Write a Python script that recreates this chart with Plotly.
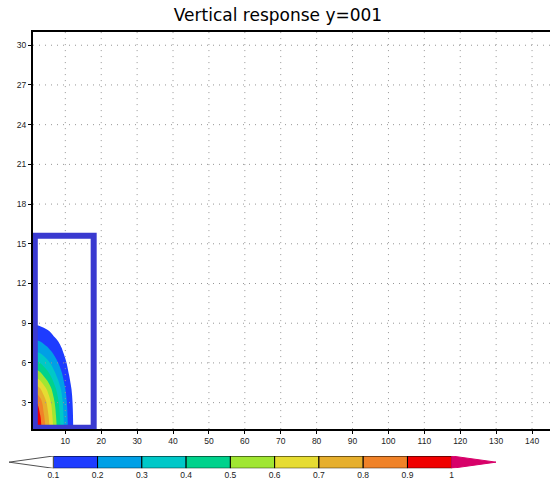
import plotly.graph_objects as go

# ---- data ----
x_grid = [1, 2, 3, 4, 5, 6, 7, 8, 9, 10, 11, 12, 13, 14]
y_grid = [1, 2, 3, 4, 5, 6, 7, 8, 9, 10, 11]
z_grid = [
    [0.990, 0.975, 0.930, 0.845, 0.760, 0.667, 0.560, 0.464, 0.366, 0.260, 0.175, 0.112, 0.052, 0.020],
    [0.960, 0.945, 0.905, 0.810, 0.730, 0.640, 0.538, 0.445, 0.351, 0.250, 0.168, 0.108, 0.050, 0.019],
    [0.910, 0.900, 0.850, 0.760, 0.684, 0.600, 0.504, 0.418, 0.329, 0.234, 0.158, 0.101, 0.047, 0.018],
    [0.767, 0.752, 0.713, 0.651, 0.589, 0.517, 0.434, 0.360, 0.284, 0.202, 0.136, 0.087, 0.040, 0.016],
    [0.589, 0.577, 0.547, 0.499, 0.452, 0.397, 0.333, 0.276, 0.218, 0.155, 0.104, 0.067, 0.031, 0.012],
    [0.429, 0.420, 0.398, 0.364, 0.329, 0.289, 0.242, 0.201, 0.158, 0.113, 0.076, 0.048, 0.023, 0.009],
    [0.285, 0.279, 0.265, 0.242, 0.219, 0.192, 0.161, 0.134, 0.105, 0.075, 0.050, 0.032, 0.015, 0.006],
    [0.172, 0.169, 0.160, 0.146, 0.132, 0.116, 0.097, 0.081, 0.064, 0.045, 0.030, 0.019, 0.009, 0.003],
    [0.089, 0.087, 0.083, 0.076, 0.068, 0.060, 0.050, 0.042, 0.033, 0.023, 0.016, 0.010, 0.005, 0.002],
    [0.040, 0.039, 0.037, 0.034, 0.030, 0.027, 0.022, 0.019, 0.015, 0.010, 0.007, 0.004, 0.002, 0.001],
    [0.015, 0.015, 0.014, 0.013, 0.011, 0.010, 0.008, 0.007, 0.005, 0.004, 0.003, 0.002, 0.001, 0.000],
]

levels = [0.1, 0.2, 0.3, 0.4, 0.5, 0.6, 0.7, 0.8, 0.9, 1.0]
level_labels = ["0.1", "0.2", "0.3", "0.4", "0.5", "0.6", "0.7", "0.8", "0.9", "1"]
band_colors = [
    "rgb(30,60,255)", "rgb(0,160,230)", "rgb(0,200,200)", "rgb(0,210,140)",
    "rgb(160,230,50)", "rgb(230,220,50)", "rgb(230,175,45)", "rgb(240,130,40)",
    "rgb(240,0,0)",
]
under_color = "white"
over_color = "rgb(215,0,105)"
bar_under_tip = 0.0
bar_over_tip = 1.1

x_ticks = [10, 20, 30, 40, 50, 60, 70, 80, 90, 100, 110, 120, 130, 140]
y_ticks = [3, 6, 9, 12, 15, 18, 21, 24, 27, 30]
x_range = [1, 145]
y_range = [1, 31]

box_x = [1.5, 17.9]
box_y = [1.1, 15.6]

title_text = "Vertical response y=001"

# ---- build figure ----
all_colors = [under_color] + band_colors + [over_color]
n = len(all_colors) - 1
colorscale = []
for k, c in enumerate(all_colors):
    lo = max(0.0, (k - 0.5) / n)
    hi = min(1.0, (k + 0.5) / n)
    colorscale.append([lo, c])
    colorscale.append([hi, c])

fig = go.Figure()

fig.add_trace(go.Contour(
    x=x_grid, y=y_grid, z=z_grid,
    contours=dict(start=levels[0], end=levels[-1], size=0.1,
                  coloring="fill", showlines=False),
    colorscale=colorscale, showscale=False,
    line=dict(width=0, smoothing=1),
    hoverinfo="skip", xaxis="x", yaxis="y",
))

# colour bar drawn on its own small axis
for i in range(len(band_colors)):
    a, b = levels[i], levels[i + 1]
    fig.add_trace(go.Scatter(
        x=[a, b, b, a, a], y=[0, 0, 1, 1, 0], mode="lines",
        fill="toself", fillcolor=band_colors[i],
        line=dict(color="black", width=1),
        hoverinfo="skip", xaxis="x2", yaxis="y2",
    ))
fig.add_trace(go.Scatter(
    x=[levels[0], bar_under_tip, levels[0], levels[0]], y=[1, 0.5, 0, 1], mode="lines",
    fill="toself", fillcolor=under_color,
    line=dict(color="rgb(80,80,80)", width=1),
    hoverinfo="skip", xaxis="x2", yaxis="y2",
))
fig.add_trace(go.Scatter(
    x=[levels[-1], bar_over_tip, levels[-1], levels[-1]], y=[1, 0.5, 0, 1], mode="lines",
    fill="toself", fillcolor=over_color,
    line=dict(color=over_color, width=1),
    hoverinfo="skip", xaxis="x2", yaxis="y2",
))

shapes = []
grid_style = dict(color="rgb(150,150,150)", width=1, dash="1px,5px")
for xv in x_ticks:
    shapes.append(dict(type="line", xref="x", yref="y", x0=xv, x1=xv,
                       y0=y_range[0], y1=y_range[1], line=grid_style, layer="above"))
for yv in y_ticks:
    shapes.append(dict(type="line", xref="x", yref="y", x0=x_range[0], x1=x_range[1],
                       y0=yv, y1=yv, line=grid_style, layer="above"))
shapes.append(dict(type="rect", xref="x", yref="y",
                   x0=box_x[0], x1=box_x[1], y0=box_y[0], y1=box_y[1],
                   line=dict(color="rgb(58,58,208)", width=6), layer="above"))

W, H = 550, 480
mt = 32
plot_h = H - mt
main_bottom = (H - 429.1) / plot_h
cb_bottom = (H - 468.3) / plot_h
cb_top = (H - 456.0) / plot_h

tick_font = dict(family="Liberation Sans, Arial, sans-serif", size=8.5, color="#222")

fig.update_layout(
    width=W, height=H, autosize=False,
    margin=dict(l=0, r=0, t=mt, b=0, pad=0),
    paper_bgcolor="white", plot_bgcolor="white",
    showlegend=False, hovermode=False,
    title=dict(text=title_text, x=278 / W, xanchor="center", xref="container",
               y=1 - 15 / H, yanchor="middle", yref="container",
               font=dict(family="DejaVu Sans, sans-serif", size=17, color="black")),
    xaxis=dict(domain=[33 / W, 1], anchor="y", range=x_range,
               tickvals=x_ticks, ticks="outside", ticklen=3, tickcolor="black",
               showline=True, linewidth=2, linecolor="black", mirror=True,
               showgrid=False, zeroline=False, tickfont=tick_font),
    yaxis=dict(domain=[main_bottom, 1], anchor="x", range=y_range,
               tickvals=y_ticks, ticks="outside", ticklen=3, tickcolor="black",
               showline=True, linewidth=2, linecolor="black", mirror=False,
               showgrid=False, zeroline=False, tickfont=tick_font),
    xaxis2=dict(domain=[0, 1], anchor="y2",
                range=[0.1 - 53.3 / 442.7, 0.1 + (W - 53.3) / 442.7],
                tickvals=levels, ticktext=level_labels, ticks="",
                showline=False, showgrid=False, zeroline=False, tickfont=tick_font),
    yaxis2=dict(domain=[cb_bottom, cb_top], anchor="x2", range=[0, 1],
                visible=False, showgrid=False, zeroline=False),
    shapes=shapes,
)

fig.write_html("out.html", config={"displayModeBar": False, "staticPlot": True},
               post_script="document.body.style.margin='0';document.body.style.overflow='hidden';")
